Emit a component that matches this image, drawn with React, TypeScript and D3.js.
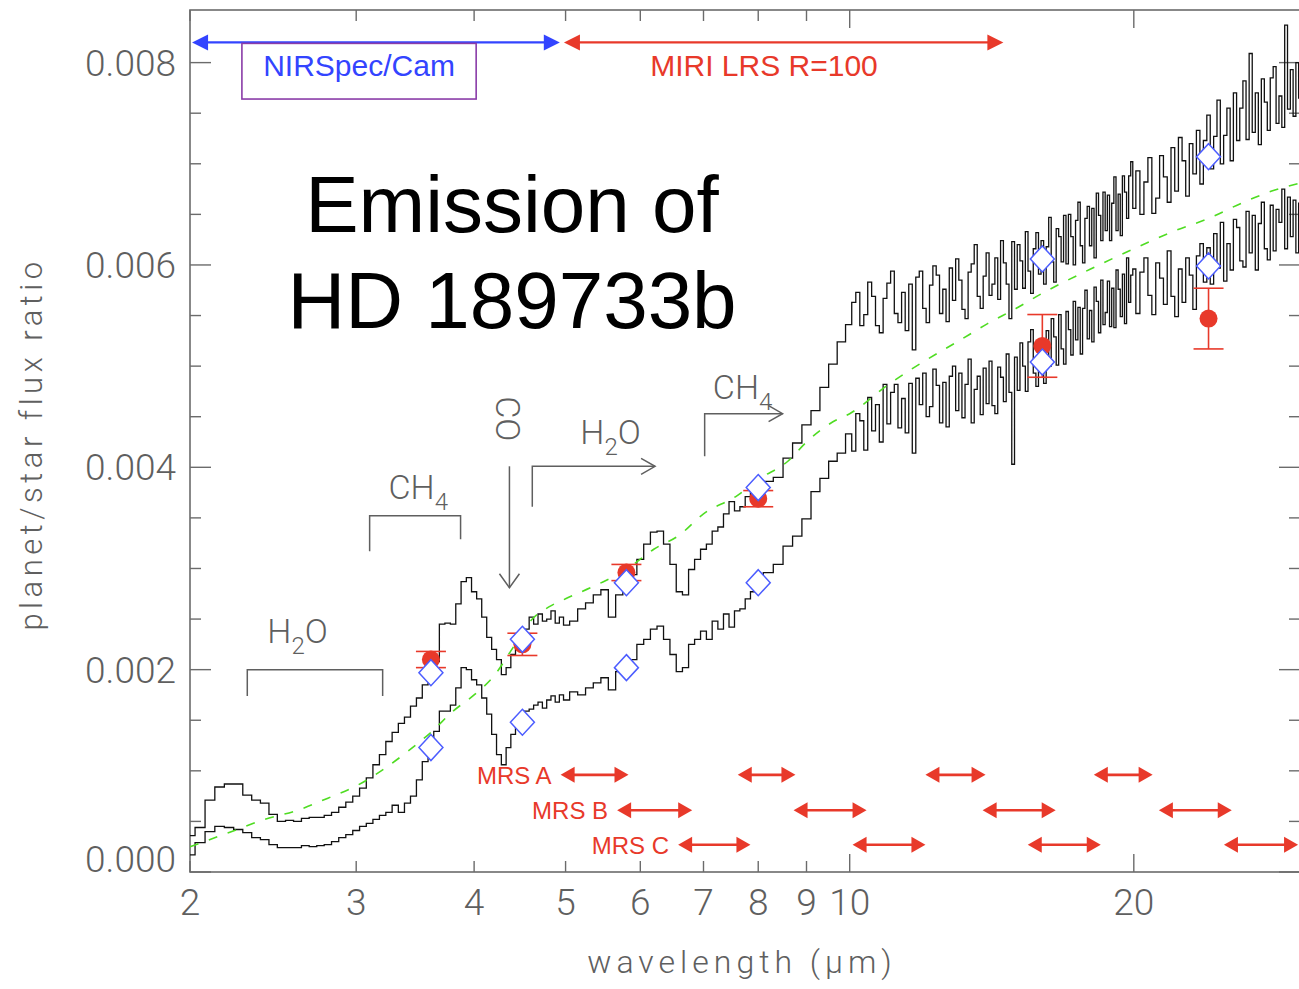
import React from "react";
import * as d3 from "d3";

// ---- Emission spectra of HD 189733b (planet/star flux ratio vs wavelength in µm) ----

// Near-IR segment, 2–5 µm
const nearWl = [
  2.0, 2.05, 2.1, 2.15, 2.2, 2.25, 2.3, 2.35, 2.4, 2.45, 2.5, 2.55, 2.6, 2.65, 2.7, 2.75, 2.8, 2.85, 2.9, 2.95,
  3.0, 3.05, 3.1, 3.15, 3.2, 3.25, 3.3, 3.35, 3.4, 3.45, 3.5, 3.55, 3.6, 3.65, 3.7, 3.75, 3.8, 3.85, 3.9, 3.95,
  4.0, 4.05, 4.1, 4.15, 4.2, 4.25, 4.3, 4.35, 4.4, 4.45, 4.5, 4.55, 4.6, 4.65, 4.7, 4.75, 4.8, 4.85, 4.9, 4.95,
  5.0,
];
const upperNear = [
  0.00036, 0.00044, 0.00071, 0.00084, 0.00087, 0.00087, 0.00076, 0.00071, 0.00068, 0.00057,
  0.0005, 0.00051, 0.0005, 0.00053, 0.00054, 0.00054, 0.00056, 0.00059, 0.00064, 0.00069,
  0.00075, 0.00083, 0.00093, 0.00106, 0.00116, 0.00129, 0.00138, 0.00147, 0.00153, 0.00164,
  0.00172, 0.00185, 0.00198, 0.00208, 0.00245, 0.00246, 0.00245, 0.00265, 0.00287, 0.00291,
  0.00277, 0.0027, 0.00252, 0.00232, 0.0022, 0.0021, 0.00195, 0.00202, 0.00215, 0.00225,
  0.0023, 0.0024, 0.00252, 0.00245, 0.00255, 0.00248, 0.0025, 0.00258, 0.00246, 0.00252,
  0.00244,
];
const lowerNear = [
  0.00017, 0.00029, 0.0004, 0.00045, 0.00044, 0.00042, 0.00039, 0.00034, 0.00032, 0.00027,
  0.00024, 0.00024, 0.00024, 0.00026, 0.00025, 0.00026, 0.00027, 0.0003, 0.00034, 0.00037,
  0.00041, 0.00045, 0.00048, 0.00052, 0.00056, 0.00059, 0.00066, 0.00059, 0.00068, 0.00075,
  0.00091, 0.00109, 0.00126, 0.00139, 0.00159, 0.00159, 0.00165, 0.00182, 0.00202, 0.002,
  0.0019, 0.00185, 0.00172, 0.00156, 0.00136, 0.00116, 0.00106, 0.00123, 0.00136, 0.00143,
  0.00149, 0.00159, 0.00161, 0.00165, 0.00168, 0.00162, 0.0017, 0.00174, 0.00168, 0.00175,
  0.0017,
];

// Mid-IR segment, 5–10 µm
const midWl = [
  5.1, 5.2, 5.3, 5.4, 5.5, 5.6, 5.7, 5.8, 5.9, 6.0, 6.1, 6.2, 6.3, 6.4, 6.5, 6.6, 6.7, 6.8, 6.9, 7.0,
  7.1, 7.2, 7.3, 7.4, 7.5, 7.6, 7.7, 7.8, 7.9, 8.0, 8.2, 8.4, 8.6, 8.8, 9.0, 9.2, 9.4, 9.6, 9.8,
];
const upperMid = [
  0.00248, 0.0026, 0.00266, 0.00274, 0.00279, 0.00252, 0.00274, 0.00286, 0.00294, 0.00309,
  0.00324, 0.00336, 0.00337, 0.00324, 0.00304, 0.00277, 0.00274, 0.00299, 0.00309, 0.00319,
  0.00324, 0.00337, 0.00341, 0.00354, 0.00366, 0.00357, 0.00361, 0.00371, 0.00376, 0.00378,
  0.00386, 0.0039, 0.00409, 0.00424, 0.00442, 0.00456, 0.00479, 0.00502, 0.00524,
];
const lowerMid = [
  0.00178, 0.00175, 0.00182, 0.00187, 0.00192, 0.0018, 0.00198, 0.00203, 0.0021, 0.00225,
  0.0023, 0.0024, 0.00243, 0.0023, 0.00215, 0.00198, 0.00202, 0.00225, 0.0023, 0.00238,
  0.0023, 0.00248, 0.0024, 0.00255, 0.00242, 0.00258, 0.0026, 0.0027, 0.00277, 0.00282,
  0.00296, 0.00304, 0.00322, 0.00332, 0.00349, 0.00376, 0.00389, 0.00406, 0.00414,
];

// Far segment, 10–20 µm
const farWl = [
  10, 10.1, 10.2, 10.3, 10.4, 10.5, 10.6, 10.7, 10.8, 10.9, 11, 11.1, 11.2, 11.3, 11.4, 11.5, 11.6, 11.7, 11.8, 11.9,
  12, 12.1, 12.2, 12.3, 12.4, 12.5, 12.6, 12.7, 12.8, 12.9, 13, 13.1, 13.2, 13.3, 13.4, 13.5, 13.6, 13.7, 13.8, 13.9,
  14, 14.1, 14.2, 14.3, 14.4, 14.5, 14.6, 14.7, 14.8, 14.9, 15, 15.1, 15.2, 15.3, 15.4, 15.5, 15.6, 15.7, 15.8, 15.9,
  16, 16.1, 16.2, 16.3, 16.4, 16.5, 16.6, 16.7, 16.8, 16.9, 17, 17.1, 17.2, 17.3, 17.4, 17.5, 17.6, 17.7, 17.8, 17.9,
  18, 18.1, 18.2, 18.3, 18.4, 18.5, 18.6, 18.7, 18.8, 18.9, 19, 19.1, 19.2, 19.3, 19.4, 19.5, 19.6, 19.7, 19.8, 19.9,
  20,
];
const upperFar = [
  0.00541, 0.00563, 0.00573, 0.0054, 0.00551, 0.00583, 0.00569, 0.0054, 0.00533, 0.00567,
  0.00582, 0.00594, 0.00552, 0.00543, 0.00573, 0.00535, 0.00581, 0.00516, 0.00588, 0.00594,
  0.00557, 0.00543, 0.0058, 0.00599, 0.0059, 0.00552, 0.00576, 0.00544, 0.00597, 0.00565,
  0.00606, 0.00585, 0.00556, 0.00547, 0.00593, 0.00601, 0.0062, 0.00569, 0.00557, 0.00589,
  0.00612, 0.0057, 0.00581, 0.00607, 0.00566, 0.00624, 0.00602, 0.00581, 0.00547, 0.00623,
  0.00576, 0.0062, 0.00604, 0.00577, 0.00633, 0.00594, 0.00572, 0.00616, 0.00632, 0.00591,
  0.00624, 0.00581, 0.00618, 0.00647, 0.00603, 0.00583, 0.00636, 0.00628, 0.00603, 0.00649,
  0.00601, 0.0065, 0.00628, 0.006, 0.00644, 0.00662, 0.00619, 0.00602, 0.00646, 0.00658,
  0.00619, 0.00656, 0.00607, 0.00671, 0.00649, 0.00624, 0.00672, 0.00634, 0.00669, 0.00624,
  0.00661, 0.00687, 0.00634, 0.0067, 0.00629, 0.00688, 0.00672, 0.00646, 0.00688, 0.00702,
  0.00656,
];
const lowerFar = [
  0.00433, 0.00416, 0.00453, 0.00446, 0.00417, 0.00469, 0.00436, 0.00462, 0.00425, 0.00482,
  0.00443, 0.00474, 0.00482, 0.00439, 0.00468, 0.00434, 0.00483, 0.00414, 0.00488, 0.00462,
  0.00493, 0.0045, 0.0046, 0.00497, 0.00481, 0.00444, 0.00484, 0.0044, 0.0049, 0.005,
  0.00456, 0.00493, 0.00449, 0.00482, 0.00507, 0.00444, 0.00477, 0.0049, 0.00452, 0.00498,
  0.00463, 0.00505, 0.00461, 0.00453, 0.00499, 0.00489, 0.00465, 0.00512, 0.00474, 0.00403,
  0.00509, 0.00476, 0.00523, 0.005, 0.00475, 0.00524, 0.00536, 0.00493, 0.0048, 0.00525,
  0.00521, 0.00483, 0.00535, 0.005, 0.00547, 0.00529, 0.00501, 0.00551, 0.00517, 0.00502,
  0.00554, 0.00536, 0.00511, 0.00564, 0.00526, 0.00558, 0.00512, 0.00557, 0.00575, 0.00527,
  0.00555, 0.00524, 0.00578, 0.00564, 0.00533, 0.00585, 0.00541, 0.00553, 0.00584, 0.00539,
  0.00577, 0.00538, 0.00595, 0.00576, 0.00549, 0.00591, 0.00542, 0.00607, 0.00563, 0.0059,
  0.00596,
];

// Long segment, 20–30 µm
const longWl = [
  20.2, 20.4, 20.6, 20.8, 21, 21.2, 21.4, 21.6, 21.8, 22, 22.2, 22.4, 22.6, 22.8, 23, 23.2, 23.4, 23.6, 23.8, 24,
  24.2, 24.4, 24.6, 24.8, 25, 25.2, 25.4, 25.6, 25.8, 26, 26.2, 26.4, 26.6, 26.8, 27, 27.2, 27.4, 27.6, 27.8, 28,
  28.2, 28.4, 28.6, 28.8, 29, 29.2, 29.4, 29.6, 29.8, 30,
];
const upperLong = [
  0.00693, 0.0065, 0.00682, 0.00706, 0.00651, 0.00666, 0.00708, 0.00687, 0.00662, 0.00716,
  0.00673, 0.00726, 0.00703, 0.00668, 0.0072, 0.0069, 0.00733, 0.0068, 0.00723, 0.00748,
  0.00695, 0.00727, 0.00763, 0.007, 0.00728, 0.00755, 0.00703, 0.0077, 0.00723, 0.00755,
  0.00782, 0.00724, 0.00809, 0.00731, 0.0077, 0.00719, 0.00784, 0.00761, 0.00733, 0.00785,
  0.00796, 0.0074, 0.00767, 0.00736, 0.00837, 0.00754, 0.00793, 0.00747, 0.008, 0.00765,
];
const lowerLong = [
  0.00552, 0.00593, 0.00607, 0.0057, 0.00551, 0.00602, 0.00587, 0.00561, 0.00614, 0.00569,
  0.00549, 0.00596, 0.00563, 0.00607, 0.0059, 0.00556, 0.00609, 0.00621, 0.00583, 0.00617,
  0.00581, 0.00631, 0.00597, 0.00642, 0.00584, 0.00621, 0.00595, 0.00645, 0.00637, 0.00604,
  0.00598, 0.00653, 0.00612, 0.00649, 0.00595, 0.00641, 0.00662, 0.00616, 0.00605, 0.00659,
  0.00614, 0.00655, 0.00642, 0.00675, 0.00616, 0.00667, 0.00628, 0.00664, 0.00612, 0.00661,
];

// Smooth model curve (green dashed)
const modelWl = [
  2.0, 2.2, 2.4, 2.6, 2.8, 3.0, 3.2, 3.4, 3.6, 3.8, 4.0, 4.2, 4.4, 4.6, 4.8, 5.0, 5.4, 5.8, 6.2, 6.6,
  7.0, 7.6, 8.0, 8.6, 9.0, 9.6, 10, 11, 12, 13, 14, 15, 16, 18, 20, 22, 24, 26, 28, 30,
];
const modelFlux = [
  0.00025, 0.00039, 0.00052, 0.00061, 0.00073, 0.00085, 0.00101, 0.00119, 0.00138, 0.00159,
  0.00175, 0.00194, 0.00222, 0.00249, 0.00262, 0.0027, 0.00284, 0.00299, 0.00319, 0.00333,
  0.00354, 0.00372, 0.00388, 0.00406, 0.00425, 0.00445, 0.00453, 0.00482, 0.00505, 0.00524,
  0.00542, 0.00557, 0.00572, 0.00596, 0.00616, 0.00633, 0.00646, 0.00661, 0.00673, 0.00681,
];

// Band-integrated points (open diamonds) and observed photometry (filled circles)
const bandWl = [3.6, 4.5, 5.8, 8.0, 16, 24];
const upperBand = [0.00197, 0.0023, 0.00286, 0.0038, 0.00606, 0.00707];
const lowerBand = [0.00123, 0.00148, 0.00202, 0.00286, 0.00504, 0.00599];
const obsFlux = [0.0021, 0.00225, 0.00296, 0.00369, 0.0052, 0.00547];
const obsErr = [0.00008, 0.00011, 0.00008, 0.00008, 0.00031, 0.0003];

// MIRI MRS sub-band coverage (µm)
const mrsRows = ["MRS A", "MRS B", "MRS C"];
const mrsRanges = [
  [[4.94, 5.83], [7.61, 8.76], [12.03, 13.93], [18.14, 20.94]],
  [[5.67, 6.81], [8.72, 10.42], [13.83, 16.53], [21.26, 25.4]],
  [[6.58, 7.85], [10.07, 12.03], [15.44, 18.45], [24.92, 29.86]],
];
const mrsLevels = [0.00096, 0.00061, 0.00027];

// Instrument spans along the top
const nirspecSpan = [2.01, 4.93];
const miriLrsSpan = [4.98, 14.55];

// Axes
const xTicks = [2, 3, 4, 5, 6, 7, 8, 9, 10, 20];
const xTickLabels = ["2", "3", "4", "5", "6", "7", "8", "9", "10", "20"];
const xLongTicks = [10, 20];
const yMajor = [0, 0.002, 0.004, 0.006, 0.008];
const yMajorLabels = ["0.000", "0.002", "0.004", "0.006", "0.008"];
const yMinor = [0.0005, 0.001, 0.0015, 0.0025, 0.003, 0.0035, 0.0045, 0.005, 0.0055, 0.0065, 0.007, 0.0075];

const AXIS = "#6b6b6b";
const LABEL = "#5f5f5f";
const RED = "#e8392a";
const BLUE = "#3344ff";
const TICK_FONT = "Roboto, 'DejaVu Sans', sans-serif";
const SANS = "'Liberation Sans', Arial, sans-serif";

function tri(tipX: number, tipY: number, dir: number, len: number, half: number) {
  const bx = tipX - dir * len;
  return `M${tipX},${tipY}L${bx},${tipY - half}L${bx},${tipY + half}Z`;
}

export default function App() {
  const left = 190, right = 1300, top = 10, bottom = 872;
  const x = d3.scaleLog().domain([2, 30]).range([left, right]);
  const y = d3.scaleLinear().domain([0, 0.00852]).range([bottom, top]);

  const wl = [...nearWl, ...midWl, ...farWl, ...longWl];
  const upper = [...upperNear, ...upperMid, ...upperFar, ...upperLong];
  const lower = [...lowerNear, ...lowerMid, ...lowerFar, ...lowerLong];

  const stepLine = d3
    .line<number>()
    .x((_, i) => x(wl[i]))
    .y((d) => y(d))
    .curve(d3.curveStep);
  const modelLine = d3
    .line<number>()
    .x((_, i) => x(modelWl[i]))
    .y((d) => y(d))
    .curve(d3.curveMonotoneX);

  const molFont = { fontFamily: TICK_FONT, fontWeight: 300, fill: LABEL } as const;

  return (
    <svg
      width={1299}
      height={989}
      style={{ position: "absolute", left: 0, top: 0, background: "#fff" }}
    >
      <defs>
        <clipPath id="plotClip">
          <rect x={left} y={top} width={right - left} height={bottom - top} />
        </clipPath>
      </defs>

      {/* frame */}
      <rect x={left} y={top} width={right - left} height={bottom - top} fill="none" stroke={AXIS} strokeWidth={1.6} />

      {/* x ticks, bottom and top */}
      {xTicks.map((t) => {
        const len = xLongTicks.includes(t) ? 18 : 11;
        return (
          <g key={"xt" + t}>
            <line x1={x(t)} x2={x(t)} y1={bottom} y2={bottom - len} stroke={AXIS} strokeWidth={1.4} />
            <line x1={x(t)} x2={x(t)} y1={top} y2={top + len} stroke={AXIS} strokeWidth={1.4} />
          </g>
        );
      })}
      {xTicks.map((t, i) => (
        <text key={"xl" + t} x={x(t)} y={915} textAnchor="middle" fontSize={37} style={molFont}>
          {xTickLabels[i]}
        </text>
      ))}

      {/* y ticks, left and right */}
      {yMajor.map((t) => (
        <g key={"ym" + t}>
          <line x1={left} x2={left + 21} y1={y(t)} y2={y(t)} stroke={AXIS} strokeWidth={1.4} />
          <line x1={right} x2={right - 21} y1={y(t)} y2={y(t)} stroke={AXIS} strokeWidth={1.4} />
        </g>
      ))}
      {yMinor.map((t) => (
        <g key={"yn" + t}>
          <line x1={left} x2={left + 11} y1={y(t)} y2={y(t)} stroke={AXIS} strokeWidth={1.4} />
          <line x1={right} x2={right - 11} y1={y(t)} y2={y(t)} stroke={AXIS} strokeWidth={1.4} />
        </g>
      ))}
      {yMajor.map((t, i) => (
        <text
          key={"yl" + t}
          x={176}
          y={y(t) + (t === 0 ? 0 : 13)}
          textAnchor="end"
          fontSize={37}
          style={molFont}
        >
          {yMajorLabels[i]}
        </text>
      ))}

      {/* axis titles */}
      <text x={742} y={973} textAnchor="middle" fontSize={32} letterSpacing={5} style={molFont}>
        wavelength (μm)
      </text>
      <text
        transform={`translate(42, 444) rotate(-90)`}
        textAnchor="middle"
        fontSize={31}
        letterSpacing={4.5}
        style={molFont}
      >
        planet/star flux ratio
      </text>

      {/* spectra and model */}
      <g clipPath="url(#plotClip)">
        <path d={stepLine(lower) || ""} fill="none" stroke="#111" strokeWidth={1.3} />
        <path d={stepLine(upper) || ""} fill="none" stroke="#111" strokeWidth={1.3} />
        <path
          d={modelLine(modelFlux) || ""}
          fill="none"
          stroke="#4fdc22"
          strokeWidth={1.6}
          strokeDasharray="9 11"
        />
      </g>

      {/* molecular band annotations */}
      <g stroke={LABEL} strokeWidth={1.5} fill="none">
        {/* H2O bracket */}
        <polyline
          points={`${x(2.3)},${y(0.00174)} ${x(2.3)},${y(0.002)} ${x(3.2)},${y(0.002)} ${x(3.2)},${y(0.00174)}`}
        />
        {/* CH4 bracket */}
        <polyline
          points={`${x(3.1)},${y(0.00317)} ${x(3.1)},${y(0.00352)} ${x(3.87)},${y(0.00352)} ${x(3.87)},${y(0.00329)}`}
        />
        {/* CO arrow */}
        <line x1={x(4.36)} x2={x(4.36)} y1={y(0.00401)} y2={y(0.00281)} />
        <polyline
          points={`${x(4.36) - 10},${y(0.00281) - 14} ${x(4.36)},${y(0.00281)} ${x(4.36) + 10},${y(0.00281) - 14}`}
        />
        {/* H2O arrow */}
        <polyline points={`${x(4.61)},${y(0.00361)} ${x(4.61)},${y(0.00401)} ${x(6.22)},${y(0.00401)}`} />
        <polyline
          points={`${x(6.22) - 14},${y(0.00401) - 8} ${x(6.22)},${y(0.00401)} ${x(6.22) - 14},${y(0.00401) + 8}`}
        />
        {/* CH4 arrow */}
        <polyline points={`${x(7.02)},${y(0.00411)} ${x(7.02)},${y(0.00453)} ${x(8.49)},${y(0.00453)}`} />
        <polyline
          points={`${x(8.49) - 14},${y(0.00453) - 8} ${x(8.49)},${y(0.00453)} ${x(8.49) - 14},${y(0.00453) + 8}`}
        />
      </g>
      <text x={x(2.6)} y={y(0.00226)} textAnchor="middle" fontSize={34} style={molFont}>
        H<tspan dy={11} fontSize={24}>2</tspan>
        <tspan dy={-11}>O</tspan>
      </text>
      <text x={x(3.49)} y={y(0.00369)} textAnchor="middle" fontSize={34} style={molFont}>
        CH<tspan dy={11} fontSize={24}>4</tspan>
      </text>
      <text x={x(5.58)} y={y(0.00423)} textAnchor="middle" fontSize={34} style={molFont}>
        H<tspan dy={11} fontSize={24}>2</tspan>
        <tspan dy={-11}>O</tspan>
      </text>
      <text x={x(7.7)} y={y(0.00468)} textAnchor="middle" fontSize={34} style={molFont}>
        CH<tspan dy={11} fontSize={24}>4</tspan>
      </text>
      <text
        transform={`translate(${x(4.36) - 13}, ${y(0.00448)}) rotate(90)`}
        textAnchor="middle"
        fontSize={34}
        style={molFont}
      >
        CO
      </text>

      {/* MIRI MRS coverage */}
      {mrsRows.map((label, r) => {
        const yy = y(mrsLevels[r]);
        return (
          <g key={label}>
            <text
              x={x(mrsRanges[r][0][0]) - 9}
              y={yy + 9}
              textAnchor="end"
              fontSize={24}
              fill={RED}
              fontFamily={SANS}
            >
              {label}
            </text>
            {mrsRanges[r].map(([a, b], k) => (
              <g key={k}>
                <line x1={x(a) + 10} x2={x(b) - 10} y1={yy} y2={yy} stroke={RED} strokeWidth={2.6} />
                <path d={tri(x(a), yy, -1, 14, 8)} fill={RED} />
                <path d={tri(x(b), yy, 1, 14, 8)} fill={RED} />
              </g>
            ))}
          </g>
        );
      })}

      {/* observed photometry with error bars */}
      {bandWl.map((w, i) => {
        const cx = x(w);
        const y0 = y(obsFlux[i] - obsErr[i]);
        const y1 = y(obsFlux[i] + obsErr[i]);
        return (
          <g key={"obs" + w} stroke={RED} strokeWidth={1.6}>
            <line x1={cx} x2={cx} y1={y0} y2={y1} />
            <line x1={cx - 15} x2={cx + 15} y1={y0} y2={y0} />
            <line x1={cx - 15} x2={cx + 15} y1={y1} y2={y1} />
            <circle cx={cx} cy={y(obsFlux[i])} r={9} fill={RED} stroke="none" />
          </g>
        );
      })}

      {/* band-integrated model points */}
      {[upperBand, lowerBand].map((series, s) =>
        bandWl.map((w, i) => {
          const cx = x(w);
          const cy = y(series[i]);
          return (
            <path
              key={`d${s}-${w}`}
              d={`M${cx},${cy - 13}L${cx + 12},${cy}L${cx},${cy + 13}L${cx - 12},${cy}Z`}
              fill="#fff"
              stroke="#4c5dff"
              strokeWidth={1.5}
            />
          );
        })
      )}

      {/* instrument spans */}
      {(() => {
        const yy = y(0.0082);
        const b0 = x(nirspecSpan[0]);
        const b1 = x(nirspecSpan[1]);
        const r0 = x(miriLrsSpan[0]);
        const r1 = x(miriLrsSpan[1]);
        return (
          <g>
            <line x1={b0 + 12} x2={b1 - 12} y1={yy} y2={yy} stroke={BLUE} strokeWidth={2.4} />
            <path d={tri(b0, yy, -1, 16, 8)} fill={BLUE} />
            <path d={tri(b1, yy, 1, 16, 8)} fill={BLUE} />
            <line x1={r0 + 12} x2={r1 - 12} y1={yy} y2={yy} stroke={RED} strokeWidth={2.4} />
            <path d={tri(r0, yy, -1, 16, 8)} fill={RED} />
            <path d={tri(r1, yy, 1, 16, 8)} fill={RED} />
            <rect
              x={x(2.27)}
              y={y(0.00819)}
              width={x(4.02) - x(2.27)}
              height={y(0.00764) - y(0.00819)}
              fill="none"
              stroke="#8a3ca8"
              strokeWidth={1.6}
            />
            <text x={(x(2.27) + x(4.02)) / 2} y={76} textAnchor="middle" fontSize={30} fill={BLUE} fontFamily={SANS}>
              NIRSpec/Cam
            </text>
            <text x={764} y={76} textAnchor="middle" fontSize={30} fill={RED} fontFamily={SANS}>
              MIRI LRS R=100
            </text>
          </g>
        );
      })()}

      {/* title */}
      <text x={512} y={232} textAnchor="middle" fontSize={80} fill="#000" fontFamily={SANS}>
        Emission of
      </text>
      <text x={512} y={328} textAnchor="middle" fontSize={80} fill="#000" fontFamily={SANS}>
        HD 189733b
      </text>
    </svg>
  );
}
